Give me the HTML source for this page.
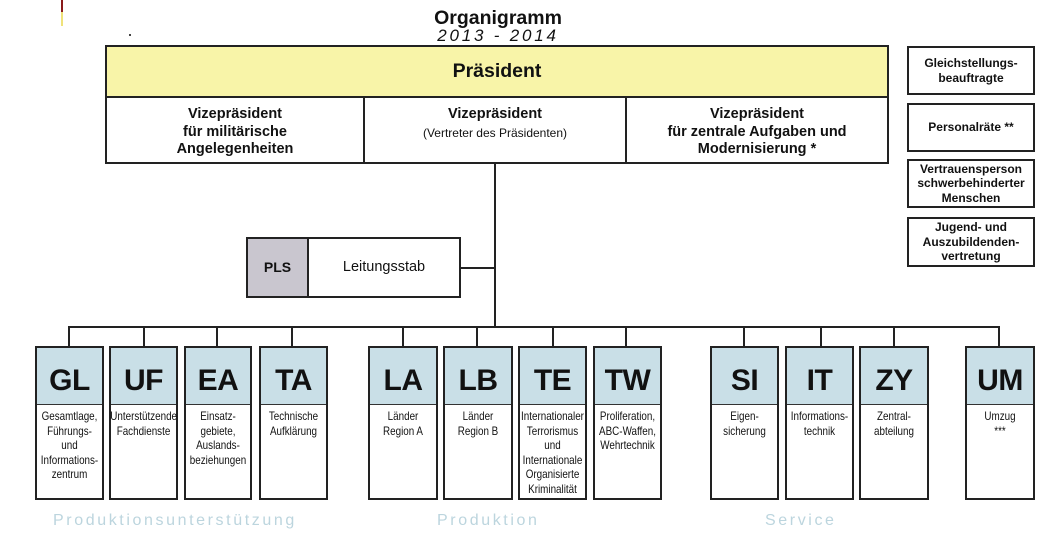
<!DOCTYPE html>
<html>
<head>
<meta charset="utf-8">
<style>
  html,body{margin:0;padding:0;background:#fff;}
  body{width:1063px;height:543px;position:relative;overflow:hidden;font-family:"Liberation Sans",Arial,sans-serif;color:#111;}
  .a{position:absolute;box-sizing:border-box;}
  .ln{position:absolute;background:#222;}
  .bx{position:absolute;box-sizing:border-box;border:2px solid #222;background:#fff;}
  .c{text-align:center;}
  .side{position:absolute;box-sizing:border-box;border:2px solid #222;background:#fff;width:128px;display:flex;align-items:center;justify-content:center;text-align:center;font-weight:bold;font-size:12px;line-height:14.5px;}
  .u{position:absolute;box-sizing:border-box;border:2px solid #222;background:#fff;top:346px;height:154px;}
  .u .t{position:absolute;left:0;right:0;top:0;height:57px;background:#c9dfe7;border-bottom:1.5px solid #333;text-align:center;font-weight:bold;font-size:30px;line-height:30px;padding-top:18px;box-sizing:border-box;letter-spacing:-0.5px;}
  .u .d{position:absolute;left:-8px;right:-8px;top:61px;text-align:center;font-size:12px;line-height:14.5px;transform:scaleX(0.82);white-space:nowrap;}
  .grp{position:absolute;top:511px;font-size:16px;color:#bcd5de;letter-spacing:2.6px;white-space:nowrap;line-height:20px;}
</style>
</head>
<body>
<!-- corner marks -->
<div class="a" style="left:61px;top:0;width:2px;height:12px;background:#8a1a1a;"></div>
<div class="a" style="left:61px;top:12px;width:2px;height:14px;background:#efe27a;"></div>
<div class="a" style="left:129px;top:34px;width:2px;height:2px;background:#444;"></div>
<div class="a" style="left:129px;top:116px;width:2px;height:2px;background:#666;"></div>

<!-- title -->
<div class="a c" style="left:398px;top:7px;width:200px;font-size:19.5px;font-weight:bold;line-height:22px;">Organigramm</div>
<div class="a c" style="left:398px;top:26px;width:200px;font-size:17px;font-style:italic;letter-spacing:2.8px;line-height:20px;color:#111;">2013 - 2014</div>

<!-- main box -->
<div class="bx" style="left:105px;top:45px;width:784px;height:119px;"></div>
<div class="a" style="left:107px;top:47px;width:780px;height:49px;background:#f8f4a8;"></div>
<div class="ln" style="left:105px;top:96px;width:784px;height:2px;"></div>
<div class="ln" style="left:363px;top:96px;width:2px;height:68px;"></div>
<div class="ln" style="left:625px;top:96px;width:2px;height:68px;"></div>
<div class="a c" style="left:105px;top:59px;width:784px;font-size:19.5px;font-weight:bold;line-height:24px;">Präsident</div>

<div class="a c" style="left:107px;top:106px;width:256px;font-size:14.5px;font-weight:bold;line-height:17.5px;">Vizepräsident<br>für militärische<br>Angelegenheiten</div>
<div class="a c" style="left:365px;top:105px;width:260px;line-height:17.5px;"><span style="font-size:14.5px;font-weight:bold;">Vizepräsident</span><br><span style="font-size:12px;">(Vertreter des Präsidenten)</span></div>
<div class="a c" style="left:627px;top:106px;width:260px;font-size:14.5px;font-weight:bold;line-height:17.5px;">Vizepräsident<br>für zentrale Aufgaben und<br>Modernisierung *</div>

<!-- side boxes -->
<div class="side" style="left:907px;top:46px;height:49px;">Gleichstellungs-<br>beauftragte</div>
<div class="side" style="left:907px;top:103px;height:49px;">Personalräte **</div>
<div class="side" style="left:907px;top:159px;height:49px;">Vertrauensperson<br>schwerbehinderter<br>Menschen</div>
<div class="side" style="left:907px;top:217px;height:50px;">Jugend- und<br>Auszubildenden-<br>vertretung</div>

<!-- connectors -->
<div class="ln" style="left:494px;top:163px;width:2px;height:165px;"></div>
<div class="ln" style="left:460px;top:267px;width:35px;height:2px;"></div>
<div class="ln" style="left:68px;top:326px;width:932px;height:2px;"></div>
<div class="ln" style="left:68px;top:326px;width:2px;height:21px;"></div>
<div class="ln" style="left:143px;top:326px;width:2px;height:21px;"></div>
<div class="ln" style="left:216px;top:326px;width:2px;height:21px;"></div>
<div class="ln" style="left:291px;top:326px;width:2px;height:21px;"></div>
<div class="ln" style="left:402px;top:326px;width:2px;height:21px;"></div>
<div class="ln" style="left:476px;top:326px;width:2px;height:21px;"></div>
<div class="ln" style="left:552px;top:326px;width:2px;height:21px;"></div>
<div class="ln" style="left:625px;top:326px;width:2px;height:21px;"></div>
<div class="ln" style="left:743px;top:326px;width:2px;height:21px;"></div>
<div class="ln" style="left:820px;top:326px;width:2px;height:21px;"></div>
<div class="ln" style="left:893px;top:326px;width:2px;height:21px;"></div>
<div class="ln" style="left:998px;top:326px;width:2px;height:21px;"></div>

<!-- Leitungsstab -->
<div class="bx" style="left:246px;top:237px;width:215px;height:61px;"></div>
<div class="a" style="left:248px;top:239px;width:59px;height:57px;background:#c9c6cf;"></div>
<div class="ln" style="left:307px;top:237px;width:2px;height:61px;"></div>
<div class="a c" style="left:248px;top:259px;width:59px;font-size:14px;font-weight:bold;line-height:17px;">PLS</div>
<div class="a c" style="left:309px;top:258px;width:150px;font-size:14.5px;line-height:18px;">Leitungsstab</div>

<!-- units -->
<div class="u" style="left:35px;width:69px;"><div class="t">GL</div><div class="d">Gesamtlage,<br>Führungs-<br>und<br>Informations-<br>zentrum</div></div>
<div class="u" style="left:109px;width:69px;"><div class="t">UF</div><div class="d">Unterstützende<br>Fachdienste</div></div>
<div class="u" style="left:184px;width:68px;"><div class="t">EA</div><div class="d">Einsatz-<br>gebiete,<br>Auslands-<br>beziehungen</div></div>
<div class="u" style="left:259px;width:69px;"><div class="t">TA</div><div class="d">Technische<br>Aufklärung</div></div>

<div class="u" style="left:368px;width:70px;"><div class="t">LA</div><div class="d">Länder<br>Region A</div></div>
<div class="u" style="left:443px;width:70px;"><div class="t">LB</div><div class="d">Länder<br>Region B</div></div>
<div class="u" style="left:518px;width:69px;"><div class="t">TE</div><div class="d">Internationaler<br>Terrorismus<br>und<br>Internationale<br>Organisierte<br>Kriminalität</div></div>
<div class="u" style="left:593px;width:69px;"><div class="t">TW</div><div class="d">Proliferation,<br>ABC-Waffen,<br>Wehrtechnik</div></div>

<div class="u" style="left:710px;width:69px;"><div class="t">SI</div><div class="d">Eigen-<br>sicherung</div></div>
<div class="u" style="left:785px;width:69px;"><div class="t">IT</div><div class="d">Informations-<br>technik</div></div>
<div class="u" style="left:859px;width:70px;"><div class="t">ZY</div><div class="d">Zentral-<br>abteilung</div></div>
<div class="u" style="left:965px;width:70px;"><div class="t">UM</div><div class="d">Umzug<br>***</div></div>

<!-- group labels -->
<div class="grp" style="left:53px;">Produktionsunterstützung</div>
<div class="grp" style="left:437px;">Produktion</div>
<div class="grp" style="left:765px;">Service</div>
</body>
</html>
